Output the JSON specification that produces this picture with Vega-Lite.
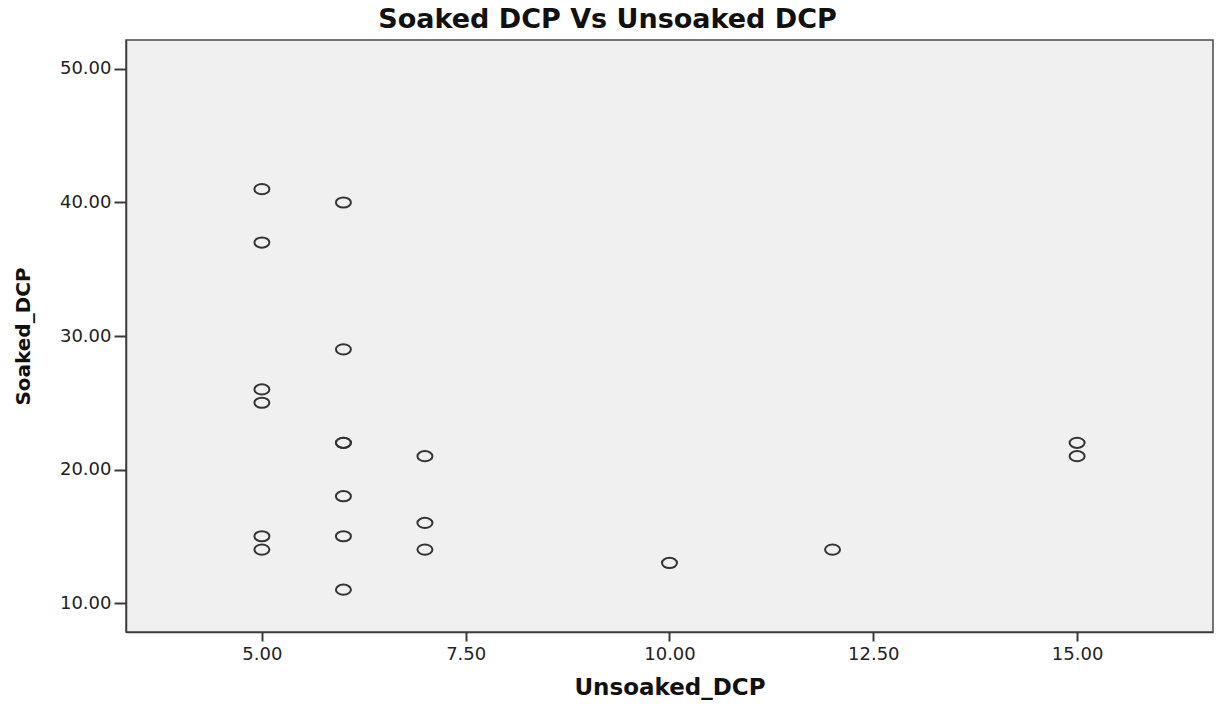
{
  "$schema": "https://vega.github.io/schema/vega-lite/v6.json",
  "autosize": "none",
  "width": 1087,
  "height": 592,
  "padding": {"left": 126, "top": 40, "right": 4, "bottom": 72},
  "background": "#ffffff",
  "title": {
    "text": "Soaked DCP Vs Unsoaked DCP",
    "font": "DejaVu Sans",
    "fontSize": 27,
    "fontWeight": "bold",
    "color": "#111111",
    "anchor": "middle",
    "dx": -62,
    "dy": 27,
    "baseline": "alphabetic",
    "offset": 12
  },
  "data": {
    "values": [
      {"Unsoaked_DCP": 5, "Soaked_DCP": 41},
      {"Unsoaked_DCP": 5, "Soaked_DCP": 37},
      {"Unsoaked_DCP": 5, "Soaked_DCP": 26},
      {"Unsoaked_DCP": 5, "Soaked_DCP": 25},
      {"Unsoaked_DCP": 5, "Soaked_DCP": 15},
      {"Unsoaked_DCP": 5, "Soaked_DCP": 14},
      {"Unsoaked_DCP": 6, "Soaked_DCP": 40},
      {"Unsoaked_DCP": 6, "Soaked_DCP": 29},
      {"Unsoaked_DCP": 6, "Soaked_DCP": 22},
      {"Unsoaked_DCP": 6, "Soaked_DCP": 22},
      {"Unsoaked_DCP": 6, "Soaked_DCP": 18},
      {"Unsoaked_DCP": 6, "Soaked_DCP": 15},
      {"Unsoaked_DCP": 6, "Soaked_DCP": 11},
      {"Unsoaked_DCP": 7, "Soaked_DCP": 21},
      {"Unsoaked_DCP": 7, "Soaked_DCP": 16},
      {"Unsoaked_DCP": 7, "Soaked_DCP": 14},
      {"Unsoaked_DCP": 10, "Soaked_DCP": 13},
      {"Unsoaked_DCP": 12, "Soaked_DCP": 14},
      {"Unsoaked_DCP": 15, "Soaked_DCP": 22},
      {"Unsoaked_DCP": 15, "Soaked_DCP": 21}
    ]
  },
  "mark": {
    "type": "point",
    "shape": "M-1,0A1,0.68 0 1,1 1,0A1,0.68 0 1,1 -1,0Z",
    "size": 225,
    "filled": false,
    "stroke": "#333333",
    "strokeWidth": 2,
    "opacity": 1
  },
  "encoding": {
    "x": {
      "field": "Unsoaked_DCP",
      "type": "quantitative",
      "scale": {"domain": [3.333, 16.667], "nice": false, "zero": false},
      "axis": {
        "title": "Unsoaked_DCP",
        "values": [5, 7.5, 10, 12.5, 15],
        "format": ".2f",
        "grid": false,
        "tickSize": 9,
        "labelPadding": 4,
        "titlePadding": 13
      }
    },
    "y": {
      "field": "Soaked_DCP",
      "type": "quantitative",
      "scale": {"domain": [7.83, 52.17], "nice": false, "zero": false},
      "axis": {
        "title": "Soaked_DCP",
        "values": [10, 20, 30, 40, 50],
        "format": ".2f",
        "grid": false,
        "tickSize": 12,
        "labelPadding": 3,
        "titlePadding": 26
      }
    }
  },
  "config": {
    "view": {"fill": "#f0f0f0", "stroke": "#4a4a4a", "strokeWidth": 1.5},
    "axis": {
      "domainColor": "#3a3a3a",
      "domainWidth": 1.5,
      "tickColor": "#3a3a3a",
      "tickWidth": 2,
      "labelFont": "DejaVu Sans",
      "labelFontSize": 18,
      "labelColor": "#222222",
      "titleFont": "DejaVu Sans",
      "titleFontWeight": "bold",
      "titleColor": "#111111"
    },
    "axisX": {"titleFontSize": 23},
    "axisY": {"titleFontSize": 20}
  }
}
